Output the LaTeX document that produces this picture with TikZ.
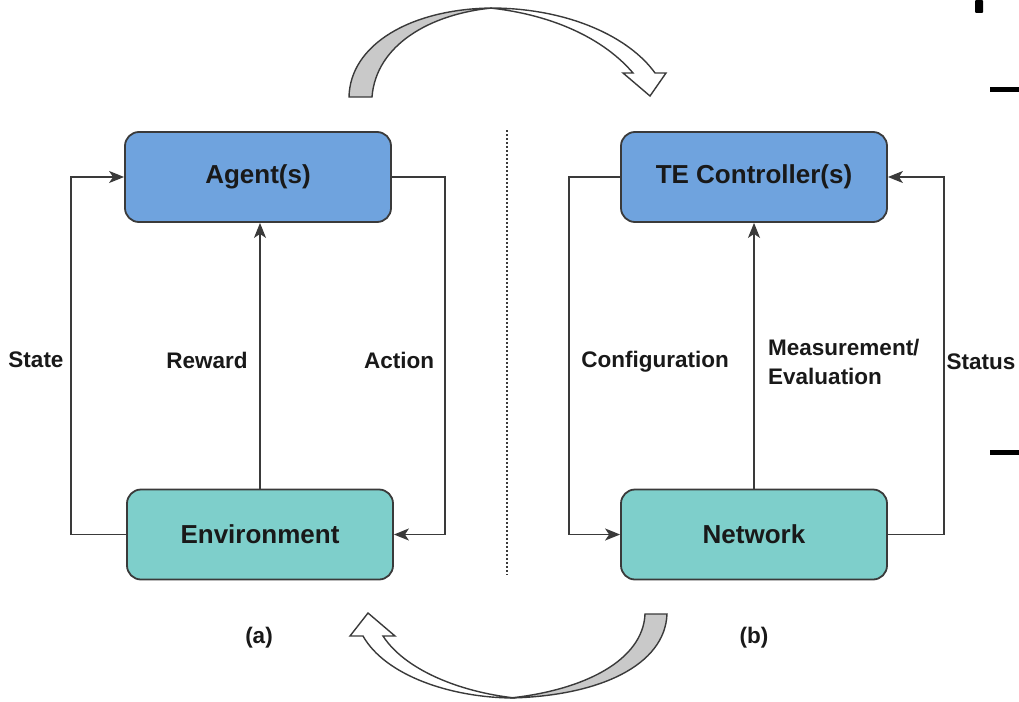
\documentclass[tikz,border=0pt]{standalone}
\usepackage{fontspec}
\setmainfont{Liberation Sans}
\usetikzlibrary{arrows.meta,positioning}

\definecolor{agentblue}{HTML}{6FA3DE}
\definecolor{envteal}{HTML}{7ECFCB}
\definecolor{edgegray}{HTML}{3A3A3A}
\definecolor{bandgray}{HTML}{C9C9C9}

\tikzset{
  blockbox/.style={draw=edgegray, line width=1.8pt, rounded corners=14pt,
    minimum width=266pt, minimum height=90pt, inner sep=0pt,
    font=\fontsize{26}{30}\selectfont\bfseries, text=black!90},
  agentbox/.style={blockbox, fill=agentblue},
  envbox/.style={blockbox, fill=envteal},
  flow/.style={draw=edgegray, line width=1.7pt,
    -{Stealth[length=15pt,width=12pt,inset=4pt]}},
  flowlabel/.style={font=\fontsize{22.5}{29}\selectfont\bfseries, text=black!90, inner sep=0pt},
  bandwhite/.style={draw=edgegray, line width=1.4pt, fill=white, line join=miter},
  bandshade/.style={draw=edgegray, line width=1.4pt, fill=bandgray},
  divider/.style={draw=edgegray, line width=1.2pt, dash pattern=on 2pt off 2pt},
  edgemark/.style={fill=black, draw=none}
}

\begin{document}
\begin{tikzpicture}[x=1pt, y=-1pt]
  \useasboundingbox (0,0) rectangle (1019,701);

  % ---- left loop: reinforcement learning ----
  \node[agentbox] (agent) at (258,177) {Agent(s)};
  \node[envbox]   (env)   at (260,534.5) {Environment};

  \draw[flow] (env.west) -- ++(-55,0) |- (agent.west);
  \draw[flow] (agent.east) -- ++(53,0) |- (env.east);
  \draw[flow] (env.north) -- (env.north |- agent.south);

  \node[flowlabel] (lstate)  at (36,360)  {State};
  \node[flowlabel] (lreward) at (207,360) {Reward};
  \node[flowlabel] (laction) at (399,360) {Action};
  \node[flowlabel] (capa)    at (259,638) {(a)};

  % ---- right loop: traffic engineering ----
  \node[agentbox] (tec) at (754,177)   {TE Controller(s)};
  \node[envbox]   (net) at (754,534.5) {Network};

  \draw[flow] (tec.west) -- ++(-51,0) |- (net.west);
  \draw[flow] (net.east) -- ++(56,0) |- (tec.east);
  \draw[flow] (net.north) -- (tec.south);

  \node[flowlabel] (lconf)   at (655,362) {Configuration};
  \node[flowlabel, anchor=west, align=left] (lmeas) at (768,362)
       {Measurement/\\Evaluation};
  \node[flowlabel] (lstatus) at (981,362) {Status};
  \node[flowlabel] (capb)    at (754,638) {(b)};

  % ---- separator ----
  \coordinate (divtop) at (507,130);
  \coordinate (divbot) at (507,575);
  \draw[divider] (divtop) -- (divbot);

  % ---- upper curved arrow (left to right) ----
  \filldraw[bandwhite] (490,8) .. controls (570,8) and (630,38) .. (655,73)
    -- (666,73) -- (650,96) -- (623,73) -- (633,73)
    .. controls (605,40) and (555,15) .. (490,8) -- cycle;
  \filldraw[bandshade] (349,97) .. controls (350,45) and (410,9) .. (492,8)
    .. controls (430,14) and (376,45) .. (372,97) -- cycle;

  % ---- lower curved arrow (right to left) ----
  \filldraw[bandwhite] (515,698) .. controls (450,698) and (385,675) .. (363,636)
    -- (350,636) -- (368,613) -- (395,636) -- (383,636)
    .. controls (405,670) and (460,692) .. (515,698) -- cycle;
  \filldraw[bandshade] (667,614) .. controls (665,665) and (600,696) .. (510,698)
    .. controls (585,690) and (643,660) .. (645,614) -- cycle;

  % ---- marks along the right edge ----
  \fill[edgemark, rounded corners=1pt] (975,0) rectangle (983,13);
  \fill[edgemark] (990,87) rectangle (1019,92);
  \fill[edgemark] (990,450) rectangle (1019,455);
\end{tikzpicture}
\end{document}
